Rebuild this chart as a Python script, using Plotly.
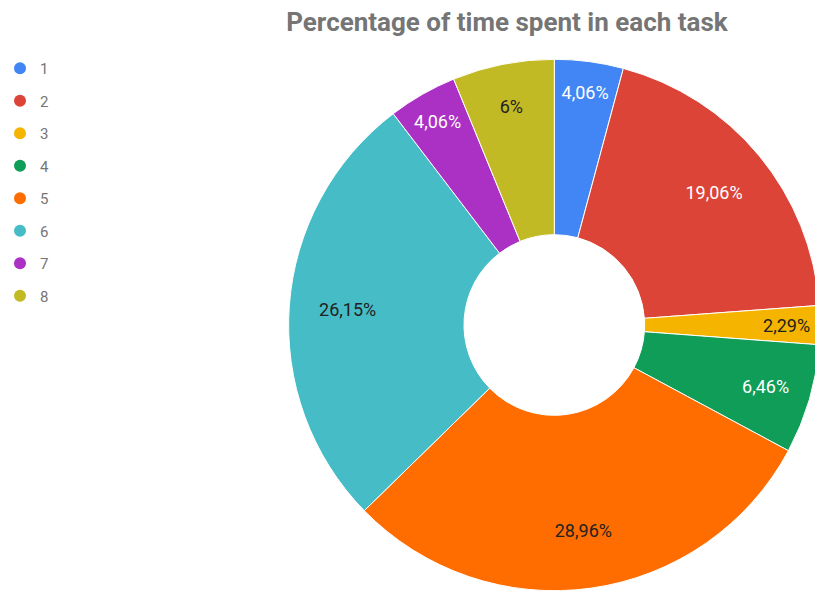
import plotly.graph_objects as go

tasks = ["1", "2", "3", "4", "5", "6", "7", "8"]
shares = [4.06, 19.06, 2.29, 6.46, 28.96, 26.15, 4.06, 6.00]
share_labels = ["4,06%", "19,06%", "2,29%", "6,46%", "28,96%", "26,15%", "4,06%", "6%"]
colors = ["#4285F4", "#DB4437", "#F4B400", "#0F9D58", "#FF6D01", "#46BDC6", "#AB30C4", "#C2BA24"]
label_colors = ["#FFFFFF", "#FFFFFF", "#222222", "#FFFFFF", "#222222", "#222222", "#FFFFFF", "#222222"]

# figure is a bit wider than the window so the donut is clipped at the right edge like the original
W, H = 822, 594
dom_x = [286 / W, 820 / W]
dom_y = [2 / H, 1 - 58 / H]

fig = go.Figure()

# donut
fig.add_trace(go.Pie(
    labels=tasks, values=shares, hole=0.34, sort=False, direction="clockwise",
    rotation=0, marker=dict(colors=colors, line=dict(color="white", width=1)),
    textinfo="none", showlegend=False, domain=dict(x=dom_x, y=dom_y),
    hoverinfo="label+percent",
))
# transparent overlay pie carrying the value labels in the outer part of the ring
fig.add_trace(go.Pie(
    labels=tasks, values=shares, hole=0.56, sort=False, direction="clockwise",
    rotation=0, marker=dict(colors=["rgba(0,0,0,0)"] * len(tasks), line=dict(width=0)),
    text=share_labels, textinfo="text", textposition="inside",
    insidetextorientation="horizontal",
    textfont=dict(family="Roboto", size=18, color=label_colors),
    showlegend=False, domain=dict(x=dom_x, y=dom_y), hoverinfo="skip",
))

# legend entries
for t, c in zip(tasks, colors):
    fig.add_trace(go.Scatter(
        x=[None], y=[None], mode="markers", name=t, legendgroup=t,
        marker=dict(symbol="circle", size=15, color=c),
    ))

fig.update_layout(
    width=W, height=H,
    margin=dict(l=0, r=0, t=0, b=0),
    paper_bgcolor="white", plot_bgcolor="white",
    xaxis=dict(visible=False), yaxis=dict(visible=False),
    uniformtext=dict(minsize=18, mode="show"),
    title=dict(
        text="<b>Percentage of time spent in each task</b>",
        font=dict(family="Roboto", size=26, color="#757575"),
        x=507 / W, xanchor="center", xref="container",
        y=1 - 22 / H, yanchor="middle", yref="container",
    ),
    legend=dict(
        x=-0.005, xanchor="left", y=1 - 52 / H, yanchor="top",
        font=dict(family="Roboto", size=15, color="#757575"),
        tracegroupgap=10, itemsizing="constant", bgcolor="rgba(0,0,0,0)",
    ),
    font=dict(family="Roboto"),
)

fig.write_html(
    "out.html",
    config={"displayModeBar": False},
    post_script="document.body.style.margin='0';document.body.style.overflow='hidden';",
)
